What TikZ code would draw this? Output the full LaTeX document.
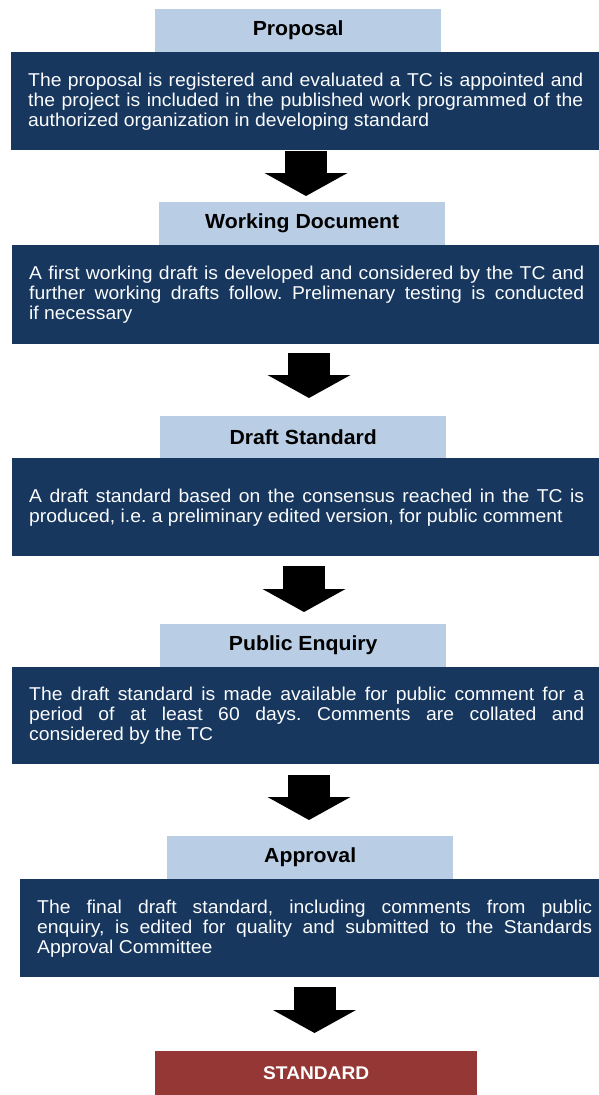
\documentclass[tikz,border=0pt]{standalone}
\usepackage{fontspec}
\setmainfont{Liberation Sans}[FakeStretch=1.04]
\usetikzlibrary{arrows.meta}
\definecolor{headblue}{HTML}{B9CDE5}
\definecolor{bodynavy}{HTML}{17375E}
\definecolor{stdred}{HTML}{953735}
\frenchspacing

\begin{document}
\begin{tikzpicture}[x=1pt,y=-1pt,
  head/.style={anchor=north west,fill=headblue,minimum width=286pt,minimum height=43pt,inner sep=0pt,font=\bfseries\fontsize{20.4}{24}\selectfont},
  body/.style={anchor=north west,fill=bodynavy,text=white!94!headblue,text width=555pt,minimum height=98pt,inner xsep=17pt,inner ysep=0pt,align=justify,font=\fontsize{18.6}{20}\selectfont},
  flowarrow/.style={line width=42pt,-{Triangle[width=83pt,length=23pt,line width=0pt]}}]
\useasboundingbox (0,0) rectangle (598,1095);

\node[head] (hProp) at (155,9) {Proposal};
\node[body] (bProp) at (11,52) {The proposal is registered and evaluated a TC is appointed and\linebreak the project is included in the published work programmed of the\linebreak authorized organization in developing standard};

\node[head] (hWork) at (159,202) {Working Document};
\node[body,minimum height=99pt] (bWork) at (12,245) {A first working draft is developed and considered by the TC and\linebreak further working drafts follow. Prelimenary testing is conducted\linebreak if necessary};

\node[head,minimum height=42pt] (hDraft) at (160,416) {Draft Standard};
\node[body] (bDraft) at (12,458) {A draft standard based on the consensus reached in the TC is\linebreak produced, i.e. a preliminary edited version, for public comment};

\node[head] (hPub) at (160,624) {Public Enquiry};
\node[body,minimum height=97pt] (bPub) at (12,667) {The draft standard is made available for public comment for a\linebreak period of at least 60 days. Comments are collated and\linebreak considered by the TC};

\node[head] (hAppr) at (167,836) {Approval};
\node[body] (bAppr) at (20,879) {The final draft standard, including comments from public\linebreak enquiry, is edited for quality and submitted to the Standards\linebreak Approval Committee};

\node[anchor=north west,fill=stdred,text=white,minimum width=322pt,minimum height=44pt,inner sep=0pt,font=\bfseries\fontsize{18.4}{22}\selectfont] (std) at (155,1051) {STANDARD};

\coordinate (t1) at (306,196);
\coordinate (t2) at (309,398);
\coordinate (t3) at (304,612);
\coordinate (t4) at (309,820);
\coordinate (t5) at (314.5,1033);

\draw[flowarrow,shorten <=1pt] (bProp.south -| t1) -- (t1);
\draw[flowarrow,shorten <=9pt] (bWork.south -| t2) -- (t2);
\draw[flowarrow,shorten <=10pt] (bDraft.south -| t3) -- (t3);
\draw[flowarrow,shorten <=11pt] (bPub.south -| t4) -- (t4);
\draw[flowarrow,shorten <=10pt] (bAppr.south -| t5) -- (t5);

\end{tikzpicture}
\end{document}
